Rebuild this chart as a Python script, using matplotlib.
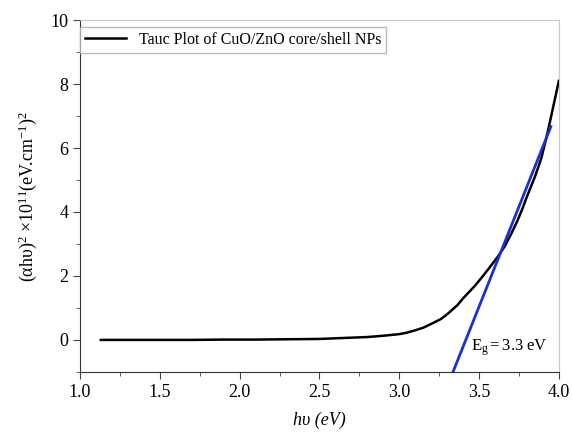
import numpy as np
import matplotlib.pyplot as plt
from matplotlib.ticker import MultipleLocator

plt.rcParams['font.family'] = 'Liberation Serif'
plt.rcParams['mathtext.fontset'] = 'custom'
plt.rcParams['mathtext.rm'] = 'Liberation Serif'
plt.rcParams['mathtext.it'] = 'Liberation Serif:italic'

# curve
energy = [1.13, 1.3, 1.5, 1.7, 1.9, 2.1, 2.3, 2.5, 2.6, 2.7, 2.8, 2.9, 3.0,
          3.05, 3.1, 3.15, 3.2, 3.26, 3.3, 3.365, 3.4, 3.47, 3.52, 3.57,
          3.62, 3.66, 3.7, 3.74, 3.77, 3.8, 3.85, 3.89, 3.92, 3.95, 4.0]
tauc = [0.0, 0.0, 0.0, 0.0, 0.01, 0.01, 0.02, 0.03, 0.05, 0.07, 0.09, 0.13, 0.18,
        0.23, 0.3, 0.38, 0.5, 0.65, 0.8, 1.09, 1.3, 1.67, 1.97, 2.29,
        2.62, 2.92, 3.3, 3.72, 4.08, 4.48, 5.1, 5.68, 6.28, 6.95, 8.1]

# linear fit line ends
fit_x = [3.337, 3.95]
fit_y = [-1.0, 6.67]

fig = plt.figure(figsize=(5.72, 4.37), dpi=100)
ax = fig.add_axes([0.140, 0.149, 0.837, 0.805])

ax.plot(energy, tauc, color='black', lw=1.8, label='Tauc Plot of CuO/ZnO core/shell NPs')
ax.plot(fit_x, fit_y, color='#1433d6', lw=2.0)

ax.set_xlim(1.0, 4.0)
ax.set_ylim(-1, 10)
ax.xaxis.set_major_locator(MultipleLocator(0.5))
ax.xaxis.set_minor_locator(MultipleLocator(0.25))
ax.yaxis.set_major_locator(MultipleLocator(2))
ax.yaxis.set_minor_locator(MultipleLocator(1))
ax.tick_params(which='both', direction='out', labelsize=13, color='#444444')
ax.tick_params(which='major', length=5)
ax.tick_params(which='minor', length=3)

for s in ['top', 'right']:
    ax.spines[s].set_color('#c8c8c8')
for s in ['left', 'bottom']:
    ax.spines[s].set_color('#333333')

ax.set_xlabel('hυ (eV)', fontsize=13, style='italic', labelpad=8)
ax.set_ylabel(r'$\mathrm{(αhυ)^2\ ×10^{11}(eV\!.\!cm^{-1})^2}$', fontsize=13, labelpad=8)

ax.text(3.45, -0.32, r'$\mathrm{E_g = 3.3\ eV}$', fontsize=12)

leg = ax.legend(loc='upper left', bbox_to_anchor=(0.0, 0.98), fontsize=11.5,
                fancybox=False, edgecolor='#aaaaaa', borderaxespad=0.0,
                handlelength=2.6, borderpad=0.3)
leg.get_frame().set_linewidth(1.0)

fig.savefig('out.png', dpi=100)
